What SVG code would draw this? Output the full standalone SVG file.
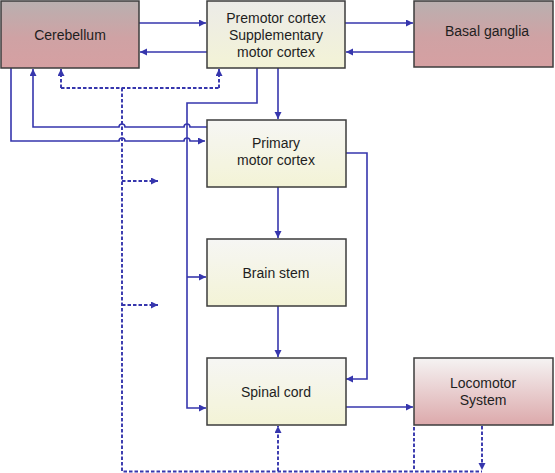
<svg xmlns="http://www.w3.org/2000/svg" width="555" height="473" viewBox="0 0 555 473">
<defs>
<linearGradient id="gRed" x1="0" y1="0" x2="0" y2="1">
<stop offset="0" stop-color="#b9b0b0"/>
<stop offset="0.55" stop-color="#cfa2a4"/>
<stop offset="1" stop-color="#d6a0a2"/>
</linearGradient>
<linearGradient id="gLoco" x1="0" y1="0" x2="0" y2="1">
<stop offset="0" stop-color="#f5f3f3"/>
<stop offset="1" stop-color="#dca9ab"/>
</linearGradient>
<linearGradient id="gYel" x1="0" y1="0" x2="0" y2="1">
<stop offset="0" stop-color="#ecebe8"/>
<stop offset="1" stop-color="#f3f3d6"/>
</linearGradient>
<linearGradient id="gYel2" x1="0" y1="0" x2="0" y2="1">
<stop offset="0" stop-color="#f6f6f4"/>
<stop offset="1" stop-color="#f3f3d6"/>
</linearGradient>
<marker id="ah" markerUnits="userSpaceOnUse" markerWidth="9" markerHeight="9" refX="7" refY="3.5" orient="auto">
<path d="M0,0 L7,3.5 L0,7 z" fill="#3636ad"/>
</marker>
</defs>
<style>
.box{stroke:#3c3c3c;stroke-width:1.5}
.t{font-family:"Liberation Sans",Arial,sans-serif;font-size:14px;fill:#1e1e1e;text-anchor:middle}
.s{fill:none;stroke:#3636ad;stroke-width:1.6}
.d{fill:none;stroke:#3636ad;stroke-width:1.9;stroke-dasharray:3.5,2}
.a{marker-end:url(#ah)}
</style>
<g id="connectors">
<path class="s a" d="M139,23 H206"/>
<path class="s a" d="M207,52 H140"/>
<path class="s a" d="M345,23 H413"/>
<path class="s a" d="M414,52 H346"/>
<path class="s a" d="M278,68 V119"/>
<path class="s a" d="M257,68 V103 H187 V408 H206"/>
<path class="s a" d="M187,277 H206"/>
<path class="s a" d="M11,68 V141 H119 A3,3 0 0 1 125,141 H184 A3,3 0 0 1 190,141 H205"/>
<path class="s a" d="M207,127 H190 A3,3 0 0 0 184,127 H125 A3,3 0 0 0 119,127 H33 V69"/>
<path class="s a" d="M278,187 V238"/>
<path class="s a" d="M346,153 H367 V379 H346"/>
<path class="s a" d="M278,306 V357"/>
<path class="s a" d="M345,407 H413"/>
<path class="d" d="M122,88 V471.5 H482"/>
<path class="d" d="M61,88 H219"/>
<path class="d a" d="M61,88 V69"/>
<path class="d a" d="M219,88 V69"/>
<path class="d a" d="M122,181 H158"/>
<path class="d a" d="M122,305 H158"/>
<path class="d a" d="M278,471 V426"/>
<path class="d" d="M414,427 V471"/>
<path class="d a" d="M482,426 V470"/>
</g>
<g id="cerebellum">
<rect class="box" x="1" y="1" width="138" height="67" fill="url(#gRed)"/>
<text class="t" x="70" y="40">Cerebellum</text>
</g>
<g id="premotor">
<rect class="box" x="207" y="1" width="138" height="67" fill="url(#gYel)"/>
<text class="t" x="276" y="23">Premotor cortex</text>
<text class="t" x="276" y="40">Supplementary</text>
<text class="t" x="276" y="57">motor cortex</text>
</g>
<g id="basal">
<rect class="box" x="414" y="1" width="139" height="66" fill="url(#gRed)"/>
<text class="t" x="487" y="36">Basal ganglia</text>
</g>
<g id="primary">
<rect class="box" x="207" y="120" width="139" height="67" fill="url(#gYel2)"/>
<text class="t" x="276" y="148">Primary</text>
<text class="t" x="276" y="165">motor cortex</text>
</g>
<g id="brainstem">
<rect class="box" x="207" y="239" width="139" height="67" fill="url(#gYel2)"/>
<text class="t" x="276" y="278">Brain stem</text>
</g>
<g id="spinal">
<rect class="box" x="207" y="358" width="139" height="67" fill="url(#gYel2)"/>
<text class="t" x="276" y="397">Spinal cord</text>
</g>
<g id="locomotor">
<rect class="box" x="414" y="358" width="139" height="67" fill="url(#gLoco)"/>
<text class="t" x="483" y="388">Locomotor</text>
<text class="t" x="483" y="405">System</text>
</g>
</svg>
